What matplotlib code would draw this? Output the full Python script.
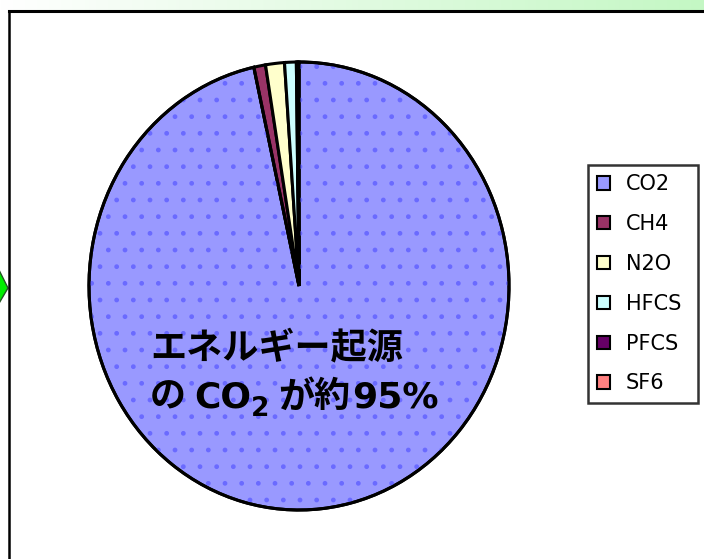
import numpy as np
import matplotlib
matplotlib.use("Agg")
import matplotlib.pyplot as plt
from matplotlib.patches import Wedge, Polygon
from matplotlib.lines import Line2D

# ---- data ----
gases = ["CO2", "CH4", "N2O", "HFCS", "PFCS", "SF6"]
shares = [96.55, 0.9, 1.45, 0.9, 0.1, 0.1]
colors = ["#9999FF", "#993366", "#FFFFCC", "#CCFFFF", "#660066", "#FF8080"]
note_line1 = "エネルギー起源"
note_line2 = ["の", "CO", "2", "が", "約", "95%"]

W, H = 704, 559
fig = plt.figure(figsize=(W / 100, H / 100), dpi=100)
fig.patch.set_facecolor("white")

def fx(px):
    return px / W

def fy(py):
    return 1 - py / H

# green gradient strip at top
gax = fig.add_axes([0, fy(10), 1, 10 / H])
grad = np.linspace(0, 1, 256)
cmap = matplotlib.colors.LinearSegmentedColormap.from_list("g", ["#ffffff", "#c4f7c4"])
gax.imshow(grad[None, :], aspect="auto", cmap=cmap, extent=[0, 1, 0, 1])
gax.axis("off")

# frame lines
fig.add_artist(Line2D([fx(9), 1], [fy(11), fy(11)], color="black", lw=2.2, transform=fig.transFigure))
fig.add_artist(Line2D([fx(9), fx(9)], [fy(11), 0], color="black", lw=1.8, transform=fig.transFigure))
# green arrow tip at left edge
fig.add_artist(Polygon([[fx(-2), fy(268)], [fx(8), fy(288)], [fx(-2), fy(305)]], closed=True,
                       facecolor="#00ee00", edgecolor="#225522", lw=1, transform=fig.transFigure))

# pie
ax = fig.add_axes([fx(89), fy(510), fx(420), 448 / H])
wedges, _ = ax.pie(shares, colors=colors, startangle=90, counterclock=False,
                   wedgeprops=dict(edgecolor="black", linewidth=2.2))
ax.set_aspect("auto")
ax.set_xlim(-1, 1)
ax.set_ylim(-1, 1)
for w in wedges:
    w.set_clip_on(False)

# dotted pattern over CO2 slice
w0 = wedges[0]
dots = Wedge(w0.center, w0.r, w0.theta1, w0.theta2, facecolor="none",
             edgecolor="#6a6aff", lw=0, hatch=".", clip_on=False)
ax.add_patch(dots)
outline = Wedge(w0.center, w0.r, w0.theta1, w0.theta2, facecolor="none",
                edgecolor="black", lw=2.2, clip_on=False)
ax.add_patch(outline)

# annotation text
jp = ["Noto Sans CJK JP", "DejaVu Sans"]
lat = ["DejaVu Sans"]
fig.text(fx(150), fy(348), note_line1, fontsize=26, fontweight="bold", family=jp,
         ha="left", va="center", color="black")
xs = [150, 194, 251, 278, 313, 352]
sizes = [26, 26, 19, 26, 26, 26]
ys = [397, 397, 409, 397, 397, 397]
fams = [jp, lat, lat, jp, jp, lat]
for s, x, sz, y, fam in zip(note_line2, xs, sizes, ys, fams):
    fig.text(fx(x), fy(y), s, fontsize=sz, fontweight="bold", family=fam,
             ha="left", va="center", color="black")

# legend
leg = fig.legend(wedges, gases, loc="upper left",
                 bbox_to_anchor=(fx(588), fy(398), fx(110), (398 - 165) / H),
                 bbox_transform=fig.transFigure, mode="expand", frameon=True, fancybox=False,
                 prop=dict(family="DejaVu Sans", size=15), handlelength=0.6,
                 handleheight=0.6, handletextpad=0.75, labelspacing=0.95,
                 borderpad=0.45, borderaxespad=0)
leg.get_frame().set_edgecolor("black")
leg.get_frame().set_linewidth(1.8)
for h in leg.legend_handles:
    h.set_edgecolor("black")
    h.set_linewidth(1.5)

fig.savefig("out.png", dpi=100)
